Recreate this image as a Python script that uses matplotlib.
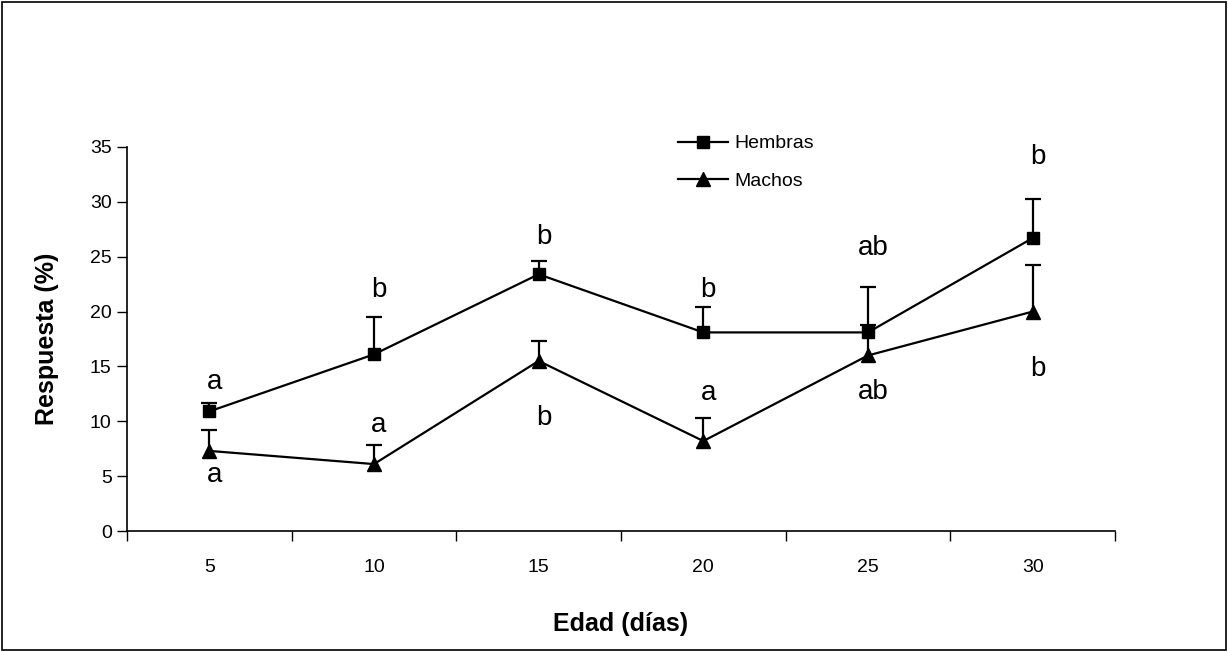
import matplotlib
matplotlib.use('Agg')
import matplotlib.pyplot as plt
import numpy as np

plt.rcParams['font.family'] = ['Liberation Sans', 'DejaVu Sans']

# data
edad = ['5', '10', '15', '20', '25', '30']
hembras = [10.9, 16.1, 23.4, 18.1, 18.1, 26.7]
hembras_err = [0.8, 3.4, 1.2, 2.3, 4.1, 3.6]
machos = [7.3, 6.1, 15.5, 8.2, 16.0, 20.0]
machos_err = [1.9, 1.7, 1.8, 2.1, 2.8, 4.2]

# significance letters and where they sit (data units)
letras_h = ['a', 'b', 'b', 'b', 'ab', 'b']
letras_h_y = [13.6, 22.0, 26.8, 22.0, 25.8, 34.1]
letras_m = ['a', 'a', 'b', 'a', 'ab', 'b']
letras_m_y = [5.1, 9.7, 10.3, 12.55, 12.7, 14.8]

fig = plt.figure(figsize=(12.28, 6.52), dpi=100)
ax = fig.add_axes([127/1228, 121/652, 988/1228, 384/652])

pos = np.arange(len(edad))

series = [(hembras, hembras_err, 's', 8, 'Hembras'),
          (machos, machos_err, '^', 10, 'Machos')]
for vals, err, mk, ms, lab in series:
    vals = np.array(vals)
    top = vals + np.array(err)
    # upper error bars only, with a cap on top
    ax.vlines(pos, vals, top, color='black', linewidth=1.6, zorder=2)
    ax.plot(pos, top, linestyle='none', marker='_', markersize=12,
            markeredgewidth=1.6, color='black', zorder=2)
    ax.plot(pos, vals, color='black', marker=mk, markersize=ms, linewidth=1.6,
            label=lab, zorder=3)

for p, t, y in zip(pos, letras_h, letras_h_y):
    ax.text(p + 0.03, y, t, ha='center', va='center', fontsize=20)
for p, t, y in zip(pos, letras_m, letras_m_y):
    ax.text(p + 0.03, y, t, ha='center', va='center', fontsize=20)

ax.set_xlim(-0.5, len(edad) - 0.5)
ax.set_ylim(0, 35)
ax.set_yticks(range(0, 36, 5))
ax.set_xticks(pos)
ax.set_xticklabels(edad, fontsize=14)
ax.set_xticks(np.arange(-0.5, len(edad), 1), minor=True)
ax.tick_params(axis='x', which='major', length=0, pad=20)
ax.tick_params(axis='x', which='minor', length=7, width=1, direction='out')
ax.tick_params(axis='y', length=7, width=1, labelsize=14, pad=4)

for s in ['top', 'right']:
    ax.spines[s].set_visible(False)
for s in ['left', 'bottom']:
    ax.spines[s].set_linewidth(1.2)

ax.set_xlabel('Edad (días)', fontsize=18, fontweight='bold', labelpad=26)
ax.set_ylabel('Respuesta (%)', fontsize=18, fontweight='bold', labelpad=22)

leg = ax.legend(loc='upper left', bbox_to_anchor=(541/988, 1.057), frameon=False,
                fontsize=14, handlelength=2.6, handletextpad=0.3, labelspacing=1.0,
                borderpad=0)

# outer border of the chart area
fig.patches.append(plt.Rectangle((2/1228, 2/652), 1224/1228, 648/652, transform=fig.transFigure,
                                 fill=False, edgecolor='black', linewidth=1.2))

fig.savefig('out.png', dpi=100)
